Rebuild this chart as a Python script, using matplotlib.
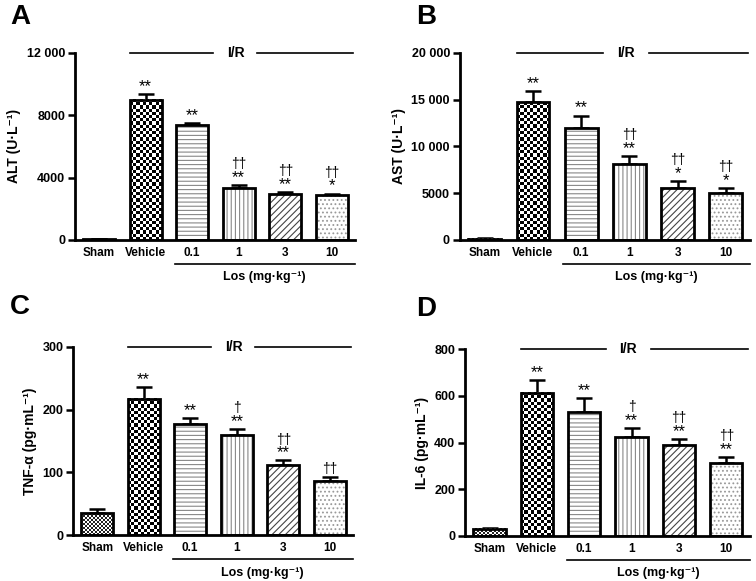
import numpy as np
import matplotlib
matplotlib.use("Agg")
import matplotlib.pyplot as plt
from matplotlib import transforms
from matplotlib.colors import ListedColormap

plt.rcParams['font.family'] = ['Liberation Sans', 'DejaVu Sans']
plt.rcParams['font.weight'] = 'bold'

# DATA
groups = ["Sham", "Vehicle", "0.1", "1", "3", "10"]

alt_mean = [50, 8990, 7355, 3355, 2968, 2903]
alt_err = [20, 370, 170, 150, 90, 70]
alt_stars = ["", "**", "**", "**", "**", "*"]
alt_dag = ["", "", "", "††", "††", "††"]

ast_mean = [150, 14700, 12000, 8140, 5590, 5050]
ast_err = [40, 1180, 1300, 820, 680, 540]
ast_stars = ["", "**", "**", "**", "*", "*"]
ast_dag = ["", "", "", "††", "††", "††"]

tnf_mean = [35, 217, 177, 159, 112, 86]
tnf_err = [6, 19, 10, 10, 7, 6]
tnf_stars = ["", "**", "**", "**", "**", ""]
tnf_dag = ["", "", "", "†", "††", "††"]

il6_mean = [30, 613, 530, 422, 389, 314]
il6_err = [6, 54, 60, 39, 26, 23]
il6_stars = ["", "**", "**", "**", "**", "**"]
il6_dag = ["", "", "", "†", "††", "††"]

# bar fills: ("checker", cell px, dark colour) or (hatch, hatch colour)
patterns = [("checker", 2.0, "#222222"), ("checker", 3.2, "black"), ("----", "#888888"),
            ("||||", "#888888"), ("/////", "#444444"), ("....", "#999999")]

BAR_W = 0.68


def CheckerFill(ax, xc, h, cell, dark):
    """Fill a bar with an axis-aligned checkerboard, cell size in pixels."""
    p = ax.transData.transform([[0, 0], [1, 1]])
    ppx = abs(p[1, 0] - p[0, 0])
    ppy = abs(p[1, 1] - p[0, 1])
    nx = max(1, int(round(BAR_W * ppx / cell)))
    ny = max(1, int(round(h * ppy / cell)))
    img = (np.add.outer(np.arange(ny), np.arange(nx)) % 2).astype(float)
    cmap = ListedColormap([dark, "white"])
    ax.imshow(img, extent=[xc - BAR_W / 2, xc + BAR_W / 2, 0, h], aspect="auto",
              cmap=cmap, interpolation="nearest", zorder=2, origin="lower")


def PlotPanel(ax, mean, err, stars, dag, ylim, yticks, yticklabels, ylabel):
    x = np.arange(len(groups))
    ax.set_xlim(-0.52, 5.5)
    ax.set_ylim(*ylim)
    for i in range(len(groups)):
        pat = patterns[i]
        if pat[0] == "checker":
            CheckerFill(ax, x[i], mean[i], pat[1], pat[2])
        else:
            with plt.rc_context({'hatch.linewidth': 0.8}):
                ax.bar(x[i], mean[i], width=BAR_W, color="white", edgecolor=pat[1],
                       hatch=pat[0], linewidth=0, zorder=2)
        ax.bar(x[i], mean[i], width=BAR_W, fill=False, edgecolor="black",
               linewidth=2, zorder=3)
    ax.errorbar(x, mean, yerr=[np.zeros(len(err)), err], fmt="none",
                ecolor="black", elinewidth=1.8, capsize=6, capthick=1.8, zorder=1)

    for i in range(len(groups)):
        top = mean[i] + err[i]
        off = 0
        if stars[i]:
            ax.annotate(stars[i], (x[i], top), xytext=(0, off), textcoords="offset points",
                        ha="center", va="bottom", fontsize=12, fontweight="normal")
            off += 9
        if dag[i]:
            ax.annotate(dag[i], (x[i], top), xytext=(0, off + 1), textcoords="offset points",
                        ha="center", va="bottom", fontsize=10, fontweight="normal")

    ax.set_xlim(-0.52, 5.5)
    ax.set_ylim(*ylim)
    ax.set_yticks(yticks)
    ax.set_yticklabels(yticklabels, fontsize=9, fontweight="bold")
    ax.set_xticks(x)
    ax.set_xticklabels(groups, fontsize=8.5, fontweight="bold")
    ax.tick_params(axis="x", length=0, pad=5)
    ax.tick_params(axis="y", length=5, width=1.8, direction="out", pad=2)
    for s in ["top", "right"]:
        ax.spines[s].set_visible(False)
    for s in ["left", "bottom"]:
        ax.spines[s].set_linewidth(2)
    ax.set_ylabel(ylabel, fontsize=10, fontweight="bold", labelpad=4)

    trans = transforms.blended_transform_factory(ax.transData, ax.transAxes)
    # I/R line
    ax.plot([0.67, 2.45], [1, 1], color="black", lw=1.2, transform=trans, clip_on=False)
    ax.plot([3.4, 5.45], [1, 1], color="black", lw=1.2, transform=trans, clip_on=False)
    ax.text(2.93, 1, "I/R", transform=trans, ha="center", va="center",
            fontsize=10, fontweight="bold")
    # Los line
    ax.plot([1.63, 5.5], [-0.128, -0.128], color="black", lw=1.2, transform=trans, clip_on=False)
    ax.text(3.56, -0.2, "Los (mg·kg⁻¹)", transform=trans, ha="center", va="center",
            fontsize=9, fontweight="bold")


fig = plt.figure(figsize=(7.56, 5.81), dpi=100)
axA = fig.add_axes([0.0992, 0.587, 0.3704, 0.322])
axB = fig.add_axes([0.608, 0.587, 0.384, 0.322])
axC = fig.add_axes([0.0966, 0.079, 0.3704, 0.324])
axD = fig.add_axes([0.615, 0.0775, 0.377, 0.3215])

PlotPanel(axA, alt_mean, alt_err, alt_stars, alt_dag, (0, 12000),
          [0, 4000, 8000, 12000], ["0", "4000", "8000", "12 000"], "ALT (U·L⁻¹)")
PlotPanel(axB, ast_mean, ast_err, ast_stars, ast_dag, (0, 20000),
          [0, 5000, 10000, 15000, 20000], ["0", "5000", "10 000", "15 000", "20 000"],
          "AST (U·L⁻¹)")
PlotPanel(axC, tnf_mean, tnf_err, tnf_stars, tnf_dag, (0, 300),
          [0, 100, 200, 300], ["0", "100", "200", "300"], "TNF-α (pg·mL⁻¹)")
PlotPanel(axD, il6_mean, il6_err, il6_stars, il6_dag, (0, 800),
          [0, 200, 400, 600, 800], ["0", "200", "400", "600", "800"], "IL-6 (pg·mL⁻¹)")

# panel letters
fig.text(10 / 756, 1 - 17 / 581, "A", fontsize=20, fontweight="bold", va="center")
fig.text(416 / 756, 1 - 17 / 581, "B", fontsize=20, fontweight="bold", va="center")
fig.text(10 / 756, 1 - 307 / 581, "C", fontsize=20, fontweight="bold", va="center")
fig.text(416 / 756, 1 - 309 / 581, "D", fontsize=20, fontweight="bold", va="center")

fig.savefig("out.png", dpi=100)
